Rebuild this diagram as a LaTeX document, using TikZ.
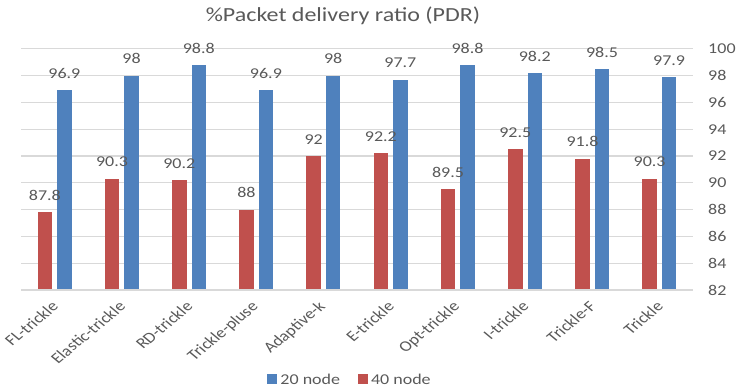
\documentclass[tikz,border=0pt]{standalone}
\usepackage{fontspec}
\setmainfont{Carlito}
\usetikzlibrary{positioning}
\definecolor{barBlue}{HTML}{4F81BD}
\definecolor{barRed}{HTML}{C0504D}
\definecolor{gridGray}{HTML}{D9D9D9}
\definecolor{txtGray}{HTML}{595959}
\newcommand\catlabel[1]{\scalebox{1.2}[1]{\rotatebox{45}{#1}}}

\begin{document}
\begin{tikzpicture}[x=1pt, y=-1pt, font=\fontsize{15}{17}\selectfont, text=txtGray,
  sx/.style={xscale=1.2},
  grid/.style={draw=gridGray, line width=1.1pt},
  val/.style={sx, anchor=south, inner sep=1pt},
  cat/.style={anchor=north east, inner sep=0pt},
  legsq/.style={minimum size=10pt, inner sep=0pt}]
\useasboundingbox (0,0) rectangle (736,390);
\node[sx] (title) at (343,16) {\fontsize{20}{22}\selectfont\%Packet delivery ratio (PDR)};
% grid and right axis
\foreach \v [count=\k] in {82,84,...,100} {
  \draw[grid] (21,{290-(\v-82)*13.4}) -- (693,{290-(\v-82)*13.4});
  \node[sx, anchor=west, inner sep=0pt] (ax\k) at (708,{290-(\v-82)*13.4}) {\v};
}
% bars: name / 20 node / 40 node
\foreach \name/\b/\r [count=\i] in {FL-trickle/96.9/87.8, Elastic-trickle/98/90.3,
    RD-trickle/98.8/90.2, Trickle-pluse/96.9/88, Adaptive-k/98/92, E-trickle/97.7/92.2,
    Opt-trickle/98.8/89.5, I-trickle/98.2/92.5, Trickle-F/98.5/91.8, Trickle/97.9/90.3} {
  \pgfmathsetmacro\c{21+67.2*(\i-0.5)}
  \pgfmathsetmacro\yb{290-(\b-82)*13.4}
  \pgfmathsetmacro\yr{290-(\r-82)*13.4}
  \fill[barRed] ({\c-17},290) rectangle ({\c-2.5},\yr);
  \fill[barBlue] ({\c+2.5},290) rectangle ({\c+17},\yb);
  \node[val] (vr\i) at ({\c-9.75},{\yr-10.5}) {\r};
  \node[val] (vb\i) at ({\c+9.75},{\yb-10.5}) {\b};
  \node[cat] (cat\i) at ({\c+5},300) {\catlabel{\name}};
}
\draw[grid] (21,290) -- (693,290);
% legend
\node[legsq, fill=barBlue] (sq20) at (272,379) {};
\node[sx, right=3pt of sq20, inner sep=0pt] (lg20) {20 node};
\node[legsq, fill=barRed, right=17pt of lg20] (sq40) {};
\node[sx, right=3pt of sq40, inner sep=0pt] (lg40) {40 node};
\end{tikzpicture}
\end{document}
